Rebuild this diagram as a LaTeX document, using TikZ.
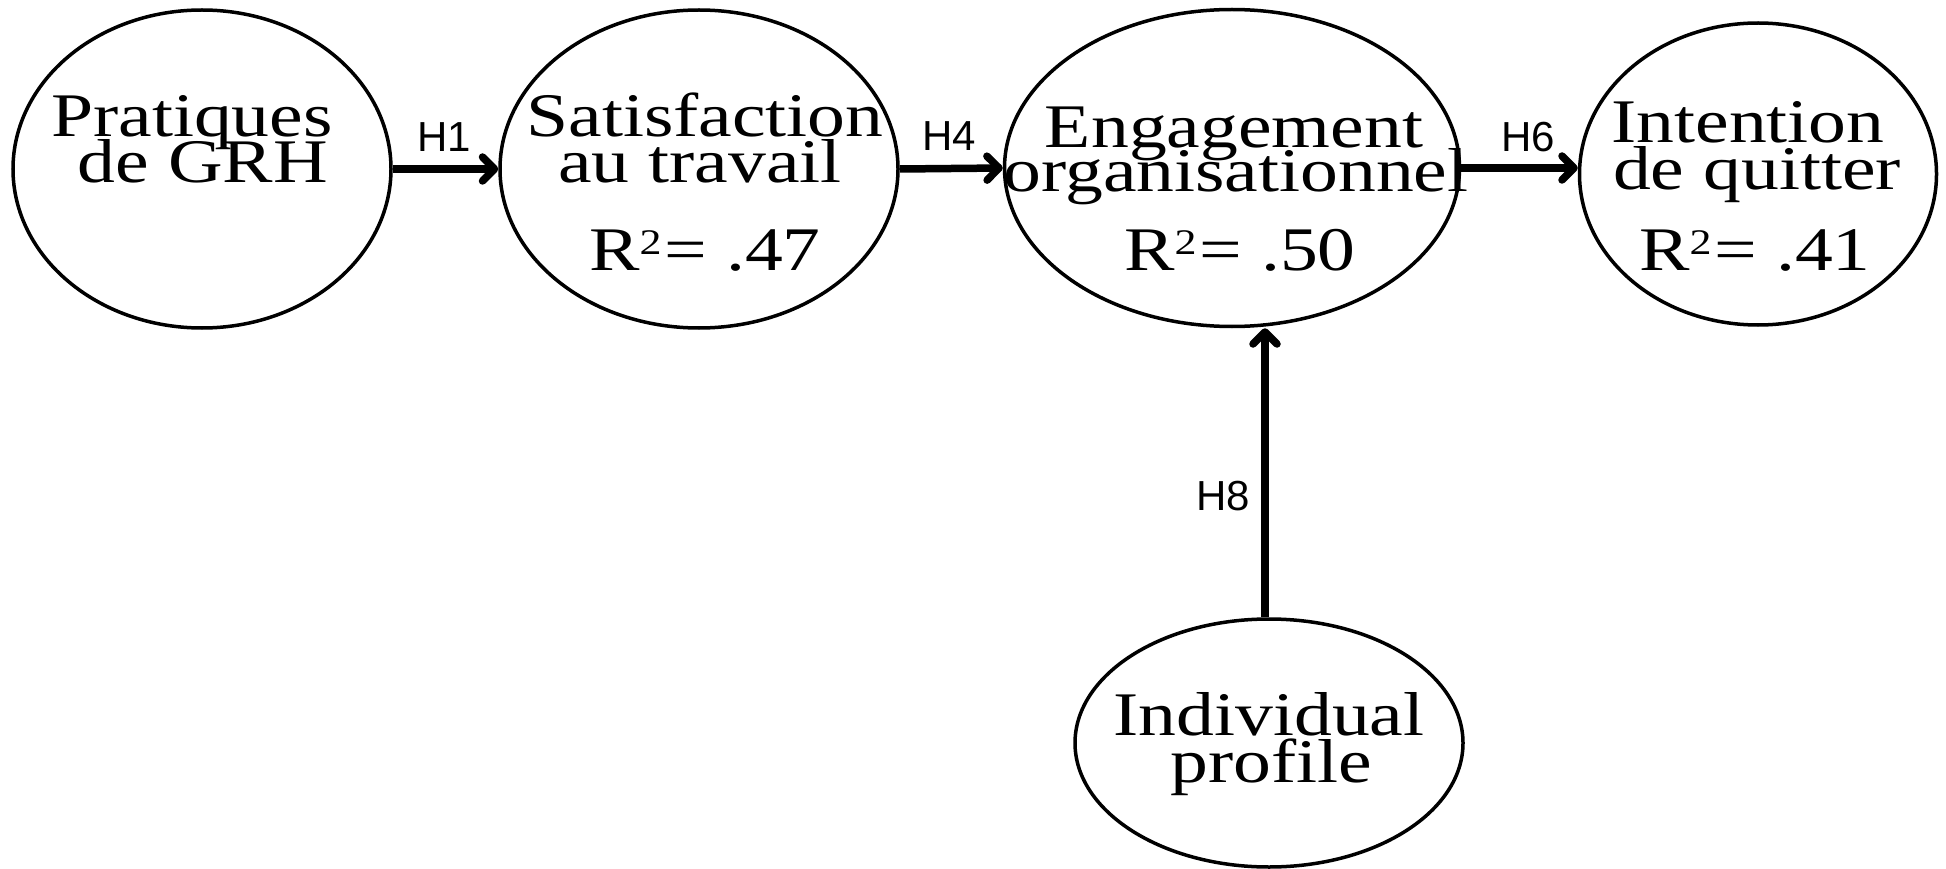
\documentclass[tikz,border=0pt]{standalone}
\usepackage{fontspec}
\usetikzlibrary{shapes.geometric,arrows.meta}
\newfontfamily\dserif[FakeStretch=1.22]{Liberation Serif}
\newfontfamily\dsans{Liberation Sans}
\newcommand{\rsq}{R{\fontsize{36}{36}\selectfont\raisebox{16pt}{2}}\hspace{3pt}}
\tikzset{
  oval/.style={draw=black, line width=3.5pt, ellipse, inner sep=0pt, fill=white},
  txt/.style={anchor=base, inner sep=0pt, font=\dserif\fontsize{62}{62}\selectfont},
  hyp/.style={inner sep=0pt, font=\dsans\fontsize{42}{42}\selectfont},
  link/.style={line width=7.5pt, -{Straight Barb[length=12pt,width=24pt,round]}}
}
\begin{document}
\begin{tikzpicture}[x=1pt,y=-1pt]
\useasboundingbox (0,0) rectangle (1946,869);
% ellipses
\node[oval, minimum width=378pt, minimum height=318pt] (pr) at (202,169) {};
\node[oval, minimum width=398pt, minimum height=318pt] (sa) at (699,169) {};
\node[oval, minimum width=455pt, minimum height=317pt] (en) at (1232,168) {};
\node[oval, minimum width=357pt, minimum height=302pt] (it) at (1758,174) {};
\node[oval, minimum width=388pt, minimum height=248pt] (in) at (1269,743) {};
% texts
\node[txt] (t1) at (192,137) {Pratiques};
\node[txt] (t2) at (203,183) {de GRH};
\node[txt] (t3) at (705,137) {Satisfaction};
\node[txt] (t4) at (700,183) {au travail};
\node[txt] (t5) at (705,270) {\rsq= .47};
\node[txt] (t6) at (1234,148) {Engagement};
\node[txt] (t7) at (1236,192) {organisationnel};
\node[txt] (t8) at (1240,270) {\rsq= .50};
\node[txt] (t9) at (1748,143) {Intention};
\node[txt] (t10) at (1757,190) {de quitter};
\node[txt] (t11) at (1755,270) {\rsq= .41};
\node[txt] (t12) at (1269,735) {Individual};
\node[txt] (t13) at (1271,782) {profile};
% connectors
\draw[link] (pr.east) -- (sa.west);
\draw[link] (sa.east) -- (en.west);
\draw[link] (en.east) -- (it.west |- en.east);
\coordinate (up) at (1265,593);
\draw[link] (in.north -| up) -- (up |- en.south);
% labels
\node[hyp] (h1) at (444,137) {H1};
\node[hyp] (h4) at (949,136) {H4};
\node[hyp] (h6) at (1528,137) {H6};
\node[hyp] (h8) at (1223,496) {H8};
\end{tikzpicture}
\end{document}
